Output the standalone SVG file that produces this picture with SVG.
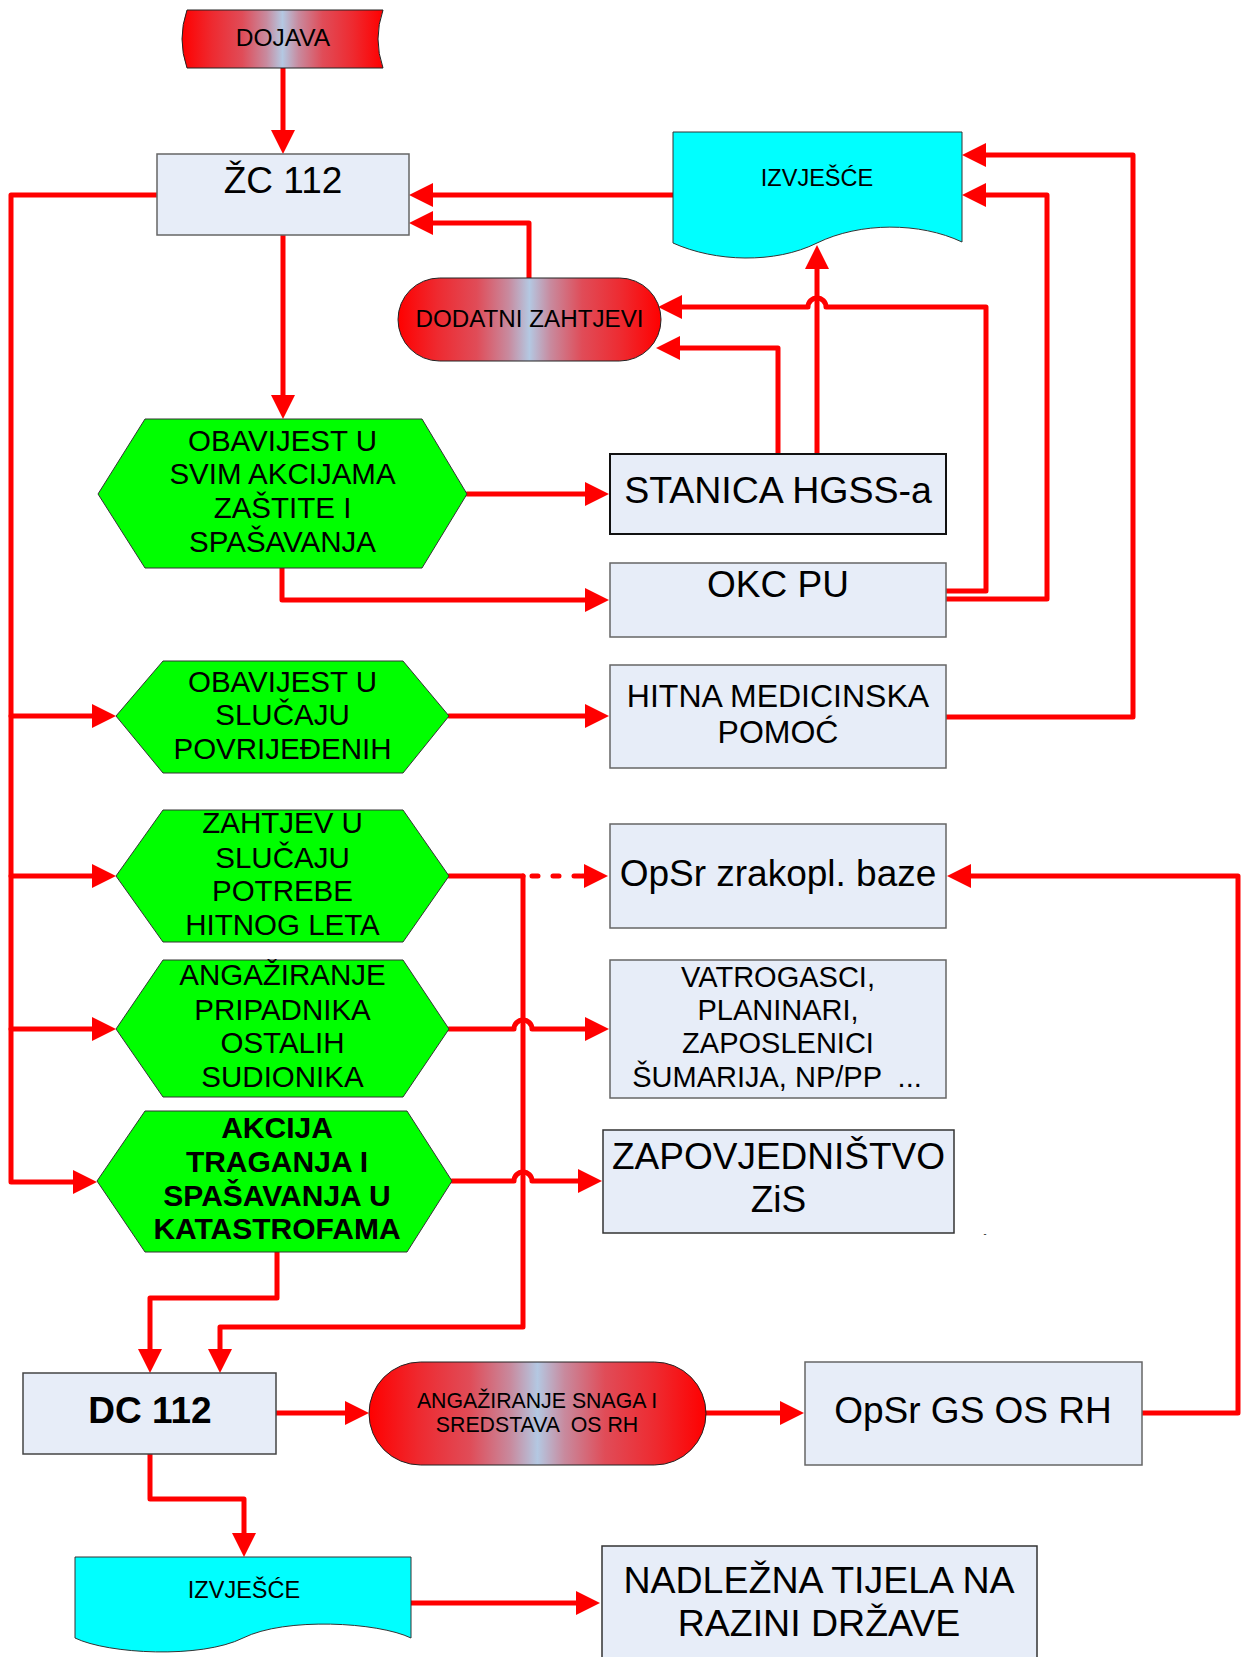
<svg xmlns="http://www.w3.org/2000/svg" width="1247" height="1657" viewBox="0 0 1247 1657">
<style>
.c{fill:none;stroke:#FF0000;stroke-width:5;stroke-linejoin:round;stroke-linecap:round}
.a{marker-end:url(#ah)}
.d{stroke-dasharray:6 15}
.box{fill:#E7EDF8;stroke:#666;stroke-width:1.5}
.hex{fill:#00FF00;stroke:#333;stroke-width:1}
.grad{fill:url(#rg);stroke:#222;stroke-width:1}
.doc{fill:#00FFFF;stroke:#333;stroke-width:1}
.t{font-family:"Liberation Sans",Arial,sans-serif;fill:#000;text-anchor:middle}
.b{font-weight:bold}
.h{font-size:29.5px}
</style>
<defs>
<linearGradient id="rg" x1="0" y1="0" x2="1" y2="0">
<stop offset="0" stop-color="#FF0000"/>
<stop offset="0.15" stop-color="#EE2A30"/>
<stop offset="0.3" stop-color="#E04C58"/>
<stop offset="0.42" stop-color="#C88A9E"/>
<stop offset="0.5" stop-color="#B4C8E2"/>
<stop offset="0.58" stop-color="#C88A9E"/>
<stop offset="0.7" stop-color="#E04C58"/>
<stop offset="0.85" stop-color="#EE2A30"/>
<stop offset="1" stop-color="#FF0000"/>
</linearGradient>
<marker id="ah" markerUnits="userSpaceOnUse" markerWidth="26" markerHeight="26" refX="4" refY="12" orient="auto">
<path d="M0,0 L24,12 L0,24 Z" fill="#FF0000"/>
</marker>
</defs>

<g id="connectors">
<path class="c a" d="M283,68 V134"/>
<path class="c a" d="M283,235 V399"/>
<path class="c a" d="M673,195 H429"/>
<path class="c a" d="M529,278 V223 H429"/>
<path class="c a" d="M157,195 H11 V1182 H77"/>
<path class="c a" d="M11,716 H96"/>
<path class="c a" d="M11,876 H96"/>
<path class="c a" d="M11,1029 H96"/>
<path class="c a" d="M467,494 H589"/>
<path class="c a" d="M282,568 V600 H589"/>
<path class="c a" d="M817,454 V265"/>
<path class="c a" d="M778,454 V348 H676"/>
<path class="c a" d="M946,591 H986 V307 H826 A9,9 0 0 0 808,307 H678"/>
<path class="c a" d="M946,599 H1047 V195 H982"/>
<path class="c a" d="M946,717 H1133 V155 H982"/>
<path class="c a" d="M449,716 H589"/>
<path class="c" d="M449,876 H523"/>
<path class="c a" d="M523,876 V1327 H220 V1353"/>
<path class="c d" d="M532,876 H580"/>
<path class="c a" d="M582,876 H588"/>
<path class="c a" d="M449,1029 H514 A9,9 0 0 1 532,1029 H589"/>
<path class="c a" d="M452,1181 H514 A9,9 0 0 1 532,1181 H582"/>
<path class="c a" d="M277,1252 V1298 H150 V1353"/>
<path class="c a" d="M276,1413 H349"/>
<path class="c a" d="M706,1413 H784"/>
<path class="c a" d="M1142,1413 H1238 V876 H967"/>
<path class="c a" d="M150,1454 V1499 H244 V1537"/>
<path class="c a" d="M410,1603 H580"/>
</g>

<g id="dojava">
<path class="grad" d="M187,10 H383 Q373,39 383,68 H187 Q177,39 187,10 Z"/>
<text class="t" x="283" y="46" font-size="24.5">DOJAVA</text>
</g>

<g id="zc112">
<rect class="box" x="157" y="154" width="252" height="81"/>
<text class="t" x="283" y="193" font-size="37">ŽC 112</text>
</g>

<g id="izvjesce1">
<path class="doc" d="M673,132 H962 V242 C920,222 860,222 817,243 C775,264 715,262 673,243 Z"/>
<text class="t" x="817" y="186" font-size="23.5">IZVJEŠĆE</text>
</g>

<g id="dodatni">
<rect class="grad" x="398" y="278" width="263" height="83" rx="41.5" ry="41.5"/>
<text class="t" x="529.5" y="327" font-size="24.2">DODATNI ZAHTJEVI</text>
</g>

<g id="stanica">
<rect class="box" x="610" y="454" width="336" height="80" style="stroke:#111;stroke-width:2"/>
<text class="t" x="778" y="503" font-size="37.5">STANICA HGSS-a</text>
</g>

<g id="okc">
<rect class="box" x="610" y="563" width="336" height="74"/>
<text class="t" x="778" y="597" font-size="37">OKC PU</text>
</g>

<g id="hitna">
<rect class="box" x="610" y="665" width="336" height="103"/>
<text class="t" x="778" y="707" font-size="32">HITNA MEDICINSKA</text>
<text class="t" x="778" y="743" font-size="32">POMOĆ</text>
</g>

<g id="opsr-zrakopl">
<rect class="box" x="610" y="824" width="336" height="104"/>
<text class="t" x="778" y="886" font-size="37">OpSr zrakopl. baze</text>
</g>

<g id="vatrogasci">
<rect class="box" x="610" y="960" width="336" height="138"/>
<text class="t" x="778" y="987" font-size="29">VATROGASCI,</text>
<text class="t" x="778" y="1020" font-size="29">PLANINARI,</text>
<text class="t" x="778" y="1053" font-size="29">ZAPOSLENICI</text>
<text class="t" x="777" y="1087" font-size="29" xml:space="preserve">ŠUMARIJA, NP/PP  ...</text>
</g>

<g id="zapovjednistvo">
<rect class="box" x="603" y="1130" width="351" height="103" style="stroke:#333"/>
<text class="t" x="778.5" y="1169" font-size="37">ZAPOVJEDNIŠTVO</text>
<text class="t" x="778.5" y="1212" font-size="37">ZiS</text>
<text class="t" x="985" y="1237" font-size="9">-</text>
</g>

<g id="hex1">
<polygon class="hex" points="98,494 145,419 422,419 467,494 422,568 145,568"/>
<text class="t h" x="282.5" y="451">OBAVIJEST U</text>
<text class="t h" x="282.5" y="484">SVIM AKCIJAMA</text>
<text class="t h" x="282.5" y="518">ZAŠTITE I</text>
<text class="t h" x="282.5" y="552">SPAŠAVANJA</text>
</g>

<g id="hex2">
<polygon class="hex" points="116,716 163,661 403,661 449,716 403,773 163,773"/>
<text class="t h" x="282.5" y="692">OBAVIJEST U</text>
<text class="t h" x="282.5" y="725">SLUČAJU</text>
<text class="t h" x="282.5" y="759">POVRIJEĐENIH</text>
</g>

<g id="hex3">
<polygon class="hex" points="116,876 163,810 403,810 449,876 403,942 163,942"/>
<text class="t h" x="282.5" y="833">ZAHTJEV U</text>
<text class="t h" x="282.5" y="868">SLUČAJU</text>
<text class="t h" x="282.5" y="901">POTREBE</text>
<text class="t h" x="282.5" y="935">HITNOG LETA</text>
</g>

<g id="hex4">
<polygon class="hex" points="116,1029 163,960 403,960 449,1029 403,1097 163,1097"/>
<text class="t h" x="282.5" y="985">ANGAŽIRANJE</text>
<text class="t h" x="282.5" y="1020">PRIPADNIKA</text>
<text class="t h" x="282.5" y="1053">OSTALIH</text>
<text class="t h" x="282.5" y="1087">SUDIONIKA</text>
</g>

<g id="hex5">
<polygon class="hex" points="97,1181 145,1111 407,1111 452,1181 407,1252 145,1252"/>
<text class="t b" x="277" y="1138" font-size="30">AKCIJA</text>
<text class="t b" x="277" y="1172" font-size="30">TRAGANJA I</text>
<text class="t b" x="277" y="1206" font-size="30">SPAŠAVANJA U</text>
<text class="t b" x="277" y="1239" font-size="30">KATASTROFAMA</text>
</g>

<g id="dc112">
<rect class="box" x="23" y="1373" width="253" height="81" style="stroke:#444"/>
<text class="t b" x="150" y="1423" font-size="37">DC 112</text>
</g>

<g id="angaziranje">
<rect class="grad" x="369" y="1362" width="337" height="103" rx="51.5" ry="51.5"/>
<text class="t" x="537" y="1408" font-size="21.3">ANGAŽIRANJE SNAGA I</text>
<text class="t" x="537" y="1432" font-size="21.3" xml:space="preserve">SREDSTAVA  OS RH</text>
</g>

<g id="opsr-gs">
<rect class="box" x="805" y="1362" width="337" height="103"/>
<text class="t" x="973" y="1423" font-size="37">OpSr GS OS RH</text>
</g>

<g id="izvjesce2">
<path class="doc" d="M75,1557 H411 V1638 C378,1622 285,1617 243,1638 C201,1659 108,1654 75,1638 Z"/>
<text class="t" x="244" y="1598" font-size="23.5">IZVJEŠĆE</text>
</g>

<g id="nadlezna">
<rect class="box" x="602" y="1546" width="435" height="125" style="stroke:#333"/>
<text class="t" x="819" y="1593" font-size="37.5">NADLEŽNA TIJELA NA</text>
<text class="t" x="819" y="1636" font-size="37.5">RAZINI DRŽAVE</text>
</g>
</svg>
